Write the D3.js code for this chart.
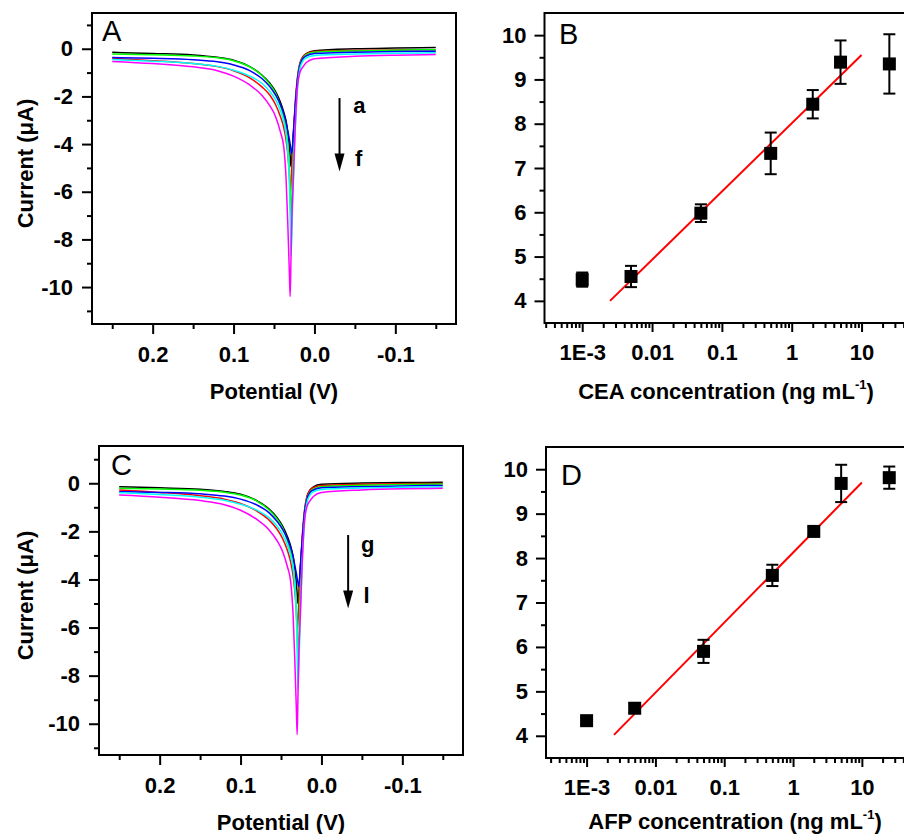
<!DOCTYPE html>
<html>
<head>
<meta charset="utf-8">
<script src="https://cdn.jsdelivr.net/npm/d3@7"></script>
<style>
body { margin: 0; background: #fff; }
text { font-family: "Liberation Sans", Arial, sans-serif; }
</style>
</head>
<body>
<svg id="fig" width="904" height="834"></svg>
<script>
// potential grid (V) shared by every voltammogram
const potential = [0.25, 0.20, 0.15, 0.12, 0.10, 0.08, 0.065, 0.055, 0.048, 0.042,
  0.038, 0.035, 0.033, 0.031, 0.030, 0.029, 0.028, 0.026, 0.024, 0.021,
  0.018, 0.014, 0.010, 0.000, -0.05, -0.10, -0.15];

// panel A currents (uA), curves a..f
const aBlack = [-0.15,-0.20,-0.26,-0.36,-0.48,-0.75,-1.10,-1.45,-1.80,-2.25,-2.65,-3.05,-3.50,-4.10,-4.50,-4.95,-4.60,-3.60,-2.60,-1.30,-0.65,-0.33,-0.20,-0.08,0.00,0.03,0.05];
const aRed = [-0.40,-0.50,-0.62,-0.75,-0.92,-1.22,-1.60,-1.95,-2.35,-2.85,-3.30,-3.85,-4.40,-5.30,-6.05,-5.70,-5.00,-3.60,-2.40,-1.20,-0.60,-0.32,-0.22,-0.12,-0.07,-0.05,-0.04];
const aGreen = [-0.22,-0.25,-0.30,-0.38,-0.50,-0.76,-1.12,-1.50,-1.88,-2.40,-2.85,-3.40,-4.00,-5.00,-6.00,-7.20,-6.40,-4.20,-2.70,-1.30,-0.68,-0.38,-0.25,-0.15,-0.09,-0.06,-0.04];
const aBlue = [-0.37,-0.40,-0.46,-0.55,-0.68,-0.92,-1.25,-1.60,-1.95,-2.35,-2.72,-3.10,-3.45,-3.80,-4.00,-4.25,-4.40,-3.50,-2.50,-1.30,-0.70,-0.40,-0.30,-0.20,-0.15,-0.12,-0.10];
const aCyan = [-0.45,-0.52,-0.62,-0.74,-0.90,-1.15,-1.45,-1.80,-2.15,-2.60,-3.05,-3.60,-4.30,-5.60,-7.00,-8.70,-7.80,-5.50,-3.60,-1.70,-0.85,-0.50,-0.38,-0.28,-0.22,-0.19,-0.17];
const aMagenta = [-0.53,-0.62,-0.76,-0.92,-1.15,-1.52,-1.95,-2.40,-2.85,-3.50,-4.10,-5.50,-7.30,-9.40,-10.40,-8.80,-7.20,-5.40,-3.50,-1.60,-1.00,-0.75,-0.58,-0.42,-0.32,-0.27,-0.24];

// panel C currents (uA), curves g..l
const cBlack = [-0.14,-0.19,-0.25,-0.34,-0.46,-0.72,-1.06,-1.42,-1.78,-2.22,-2.62,-3.05,-3.50,-4.15,-4.60,-5.00,-4.60,-3.50,-2.50,-1.25,-0.60,-0.28,-0.15,-0.04,0.01,0.03,0.04];
const cRed = [-0.28,-0.38,-0.52,-0.66,-0.84,-1.15,-1.52,-1.90,-2.30,-2.80,-3.28,-3.85,-4.45,-5.35,-6.10,-5.75,-5.00,-3.55,-2.35,-1.15,-0.55,-0.28,-0.18,-0.09,-0.04,-0.02,-0.01];
const cGreen = [-0.21,-0.24,-0.29,-0.37,-0.49,-0.74,-1.10,-1.48,-1.86,-2.40,-2.85,-3.45,-4.10,-5.20,-6.20,-7.35,-6.50,-4.30,-2.70,-1.30,-0.66,-0.36,-0.24,-0.14,-0.08,-0.05,-0.03];
const cBlue = [-0.35,-0.38,-0.44,-0.53,-0.66,-0.90,-1.22,-1.58,-1.92,-2.32,-2.68,-3.05,-3.40,-3.75,-3.95,-4.15,-4.30,-3.40,-2.45,-1.25,-0.68,-0.38,-0.28,-0.19,-0.14,-0.11,-0.09];
const cCyan = [-0.39,-0.47,-0.58,-0.71,-0.87,-1.12,-1.43,-1.78,-2.12,-2.58,-3.02,-3.55,-4.25,-5.55,-7.00,-8.60,-7.70,-5.40,-3.50,-1.65,-0.82,-0.48,-0.36,-0.26,-0.20,-0.17,-0.15];
const cMagenta = [-0.49,-0.58,-0.72,-0.89,-1.12,-1.50,-1.93,-2.38,-2.84,-3.48,-4.10,-5.50,-7.30,-9.40,-10.45,-8.80,-7.20,-5.40,-3.50,-1.60,-0.98,-0.72,-0.55,-0.38,-0.28,-0.23,-0.21];

// calibration data (ng/mL vs peak current uA)
const concentration = [0.001, 0.005, 0.05, 0.5, 2, 5, 25];
const ceaMean = [4.48, 4.55, 5.98, 7.33, 8.44, 9.39, 9.35];
const ceaErr = [0.16, 0.24, 0.20, 0.47, 0.32, 0.49, 0.67];
const afpMean = [4.34, 4.62, 5.90, 7.61, 8.60, 9.68, 9.81];
const afpErr = [0.06, 0.10, 0.26, 0.24, 0.10, 0.42, 0.25];
// fitted lines, end points
const fitConc = [0.0025, 10];
const ceaFit = [4.0, 9.55];
const afpFit = [4.02, 9.70];

const traceColors = ["#000000", "#ff0000", "#00ff00", "#0000ff", "#00ffff", "#ff00ff"];
const majorLog = [1e-3, 1e-2, 1e-1, 1, 10];
const majorLogLabels = ["1E-3", "0.01", "0.1", "1", "10"];

const svg = d3.select("#fig");
const FS = 22;

function styleAxis(g) {
  g.attr("font-family", null).attr("font-size", null);
  g.select(".domain").remove();
  g.selectAll(".tick line").attr("stroke-width", 2);
  g.selectAll("text")
    .attr("font-size", FS)
    .attr("font-weight", "bold")
    .attr("fill", "#000");
}

function frame(box) {
  svg.append("rect")
    .attr("x", box.left).attr("y", box.top)
    .attr("width", box.right - box.left)
    .attr("height", box.bottom - box.top)
    .attr("fill", "none").attr("stroke", "#000").attr("stroke-width", 2);
}

function drawSWV(box, yDom, traces, letter, arrow) {
  const x = d3.scaleLinear().domain([0.275, -0.175]).range([box.left, box.right]);
  const y = d3.scaleLinear().domain(yDom).range([box.bottom, box.top]);

  const line = d3.line()
    .x((d, i) => x(potential[i]))
    .y(d => y(d))
    .curve(d3.curveMonotoneX);

  svg.append("g")
    .selectAll("path")
    .data(traces)
    .join("path")
      .attr("d", line)
      .attr("fill", "none")
      .attr("stroke", (d, i) => traceColors[i])
      .attr("stroke-width", 1.5);

  svg.append("g")
      .attr("transform", `translate(0,${box.bottom})`)
      .call(d3.axisBottom(x).tickValues([0.2, 0.1, 0.0, -0.1])
        .tickFormat(d => d.toFixed(1)).tickSize(10).tickPadding(12))
      .call(styleAxis);
  svg.append("g")
      .attr("transform", `translate(0,${box.bottom})`)
      .call(d3.axisBottom(x).tickValues([0.25, 0.15, 0.05, -0.05, -0.15])
        .tickFormat("").tickSize(5))
      .call(styleAxis);

  svg.append("g")
      .attr("transform", `translate(${box.left},0)`)
      .call(d3.axisLeft(y).tickValues([0, -2, -4, -6, -8, -10])
        .tickFormat(d => String(d)).tickSize(10).tickPadding(9))
      .call(styleAxis);
  svg.append("g")
      .attr("transform", `translate(${box.left},0)`)
      .call(d3.axisLeft(y).tickValues([1, -1, -3, -5, -7, -9, -11])
        .tickFormat("").tickSize(5))
      .call(styleAxis);

  frame(box);

  svg.append("text")
    .attr("x", (box.left + box.right) / 2).attr("y", box.bottom + 75)
    .attr("text-anchor", "middle")
    .attr("font-size", FS).attr("font-weight", "bold")
    .text("Potential (V)");

  svg.append("text")
    .attr("transform", `translate(33,${(box.top + box.bottom) / 2 - 5}) rotate(-90)`)
    .attr("text-anchor", "middle")
    .attr("font-size", FS).attr("font-weight", "bold")
    .text("Current (\u03bcA)");

  svg.append("text")
    .attr("x", letter.x).attr("y", letter.y)
    .attr("font-size", 29)
    .text(letter.text);

  // arrow a -> f
  const ax = x(arrow.v), ay0 = y(arrow.top), ay1 = y(arrow.tip);
  svg.append("line")
    .attr("x1", ax).attr("x2", ax)
    .attr("y1", ay0).attr("y2", ay1 - 12)
    .attr("stroke", "#000").attr("stroke-width", 2);
  svg.append("path")
    .attr("d", `M${ax - 5},${ay1 - 18}L${ax + 5},${ay1 - 18}L${ax},${ay1}Z`)
    .attr("fill", "#000");
  arrow.labels.forEach(l => {
    svg.append("text")
      .attr("x", x(l.v)).attr("y", y(l.i))
      .attr("font-size", FS).attr("font-weight", "bold")
      .text(l.text);
  });
}

function drawCal(box, xDom, mean, err, fit, title, letter) {
  const x = d3.scaleLog().domain(xDom).range([box.left, box.right]);
  const y = d3.scaleLinear().domain([3.5, 10.5]).range([box.bottom, box.top]);

  const minor = [];
  for (let e = -4; e <= 1; e++) {
    for (let m = 2; m <= 9; m++) {
      const v = m * Math.pow(10, e);
      if (v > xDom[0] && v < xDom[1]) minor.push(v);
    }
  }

  svg.append("g")
      .attr("transform", `translate(0,${box.bottom})`)
      .call(d3.axisBottom(x).tickValues(majorLog)
        .tickFormat((d, i) => majorLogLabels[i]).tickSize(9).tickPadding(12))
      .call(styleAxis);
  svg.append("g")
      .attr("transform", `translate(0,${box.bottom})`)
      .call(d3.axisBottom(x).tickValues(minor).tickFormat("").tickSize(5))
      .call(styleAxis);

  svg.append("g")
      .attr("transform", `translate(${box.left},0)`)
      .call(d3.axisLeft(y).tickValues([4, 5, 6, 7, 8, 9, 10])
        .tickFormat(d => String(d)).tickSize(10).tickPadding(8))
      .call(styleAxis);
  svg.append("g")
      .attr("transform", `translate(${box.left},0)`)
      .call(d3.axisLeft(y).tickValues([4.5, 5.5, 6.5, 7.5, 8.5, 9.5])
        .tickFormat("").tickSize(5))
      .call(styleAxis);

  frame(box);

  // fitted line
  svg.append("line")
    .attr("x1", x(fitConc[0])).attr("y1", y(fit[0]))
    .attr("x2", x(fitConc[1])).attr("y2", y(fit[1]))
    .attr("stroke", "#ff0000").attr("stroke-width", 2);

  const pts = concentration.map((c, i) => ({c, m: mean[i], e: err[i]}));
  const bars = svg.append("g").attr("stroke", "#000").attr("stroke-width", 2);
  bars.selectAll("line.v").data(pts).join("line")
    .attr("x1", d => x(d.c)).attr("x2", d => x(d.c))
    .attr("y1", d => y(d.m - d.e)).attr("y2", d => y(d.m + d.e));
  bars.selectAll("line.lo").data(pts).join("line")
    .attr("x1", d => x(d.c) - 6).attr("x2", d => x(d.c) + 6)
    .attr("y1", d => y(d.m - d.e)).attr("y2", d => y(d.m - d.e));
  bars.selectAll("line.hi").data(pts).join("line")
    .attr("x1", d => x(d.c) - 6).attr("x2", d => x(d.c) + 6)
    .attr("y1", d => y(d.m + d.e)).attr("y2", d => y(d.m + d.e));

  svg.append("g").selectAll("rect").data(pts).join("rect")
    .attr("x", d => x(d.c) - 6.5).attr("y", d => y(d.m) - 6.5)
    .attr("width", 13).attr("height", 13)
    .attr("fill", "#000");

  const t = svg.append("text")
    .attr("x", title.x).attr("y", title.y)
    .attr("text-anchor", "middle")
    .attr("font-size", FS).attr("font-weight", "bold");
  t.append("tspan").text(title.text + " (ng mL");
  t.append("tspan").attr("dy", -10).attr("font-size", 13).text("-1");
  t.append("tspan").attr("dy", 10).text(")");

  svg.append("text")
    .attr("x", letter.x).attr("y", letter.y)
    .attr("font-size", 29)
    .text(letter.text);
}

drawSWV({left: 92, top: 13, right: 456, bottom: 324}, [-11.55, 1.5],
  [aBlack, aRed, aGreen, aBlue, aCyan, aMagenta],
  {text: "A", x: 102, y: 41},
  {v: -0.031, top: -2.07, tip: -5.15,
   labels: [{text: "a", v: -0.048, i: -2.68}, {text: "f", v: -0.050, i: -4.91}]});

drawSWV({left: 99, top: 446, right: 463, bottom: 755}, [-11.3, 1.55],
  [cBlack, cRed, cGreen, cBlue, cCyan, cMagenta],
  {text: "C", x: 111, y: 475},
  {v: -0.033, top: -2.15, tip: -5.21,
   labels: [{text: "g", v: -0.049, i: -2.85}, {text: "l", v: -0.052, i: -4.99}]});

drawCal({left: 544.5, top: 13, right: 930, bottom: 323}, [Math.pow(10, -3.54), Math.pow(10, 1.98)],
  ceaMean, ceaErr, ceaFit,
  {text: "CEA concentration", x: 726, y: 399},
  {text: "B", x: 559, y: 44});

drawCal({left: 546, top: 447, right: 930, bottom: 758}, [Math.pow(10, -3.59), Math.pow(10, 1.99)],
  afpMean, afpErr, afpFit,
  {text: "AFP concentration", x: 735, y: 829},
  {text: "D", x: 561, y: 485});
</script>
</body>
</html>
